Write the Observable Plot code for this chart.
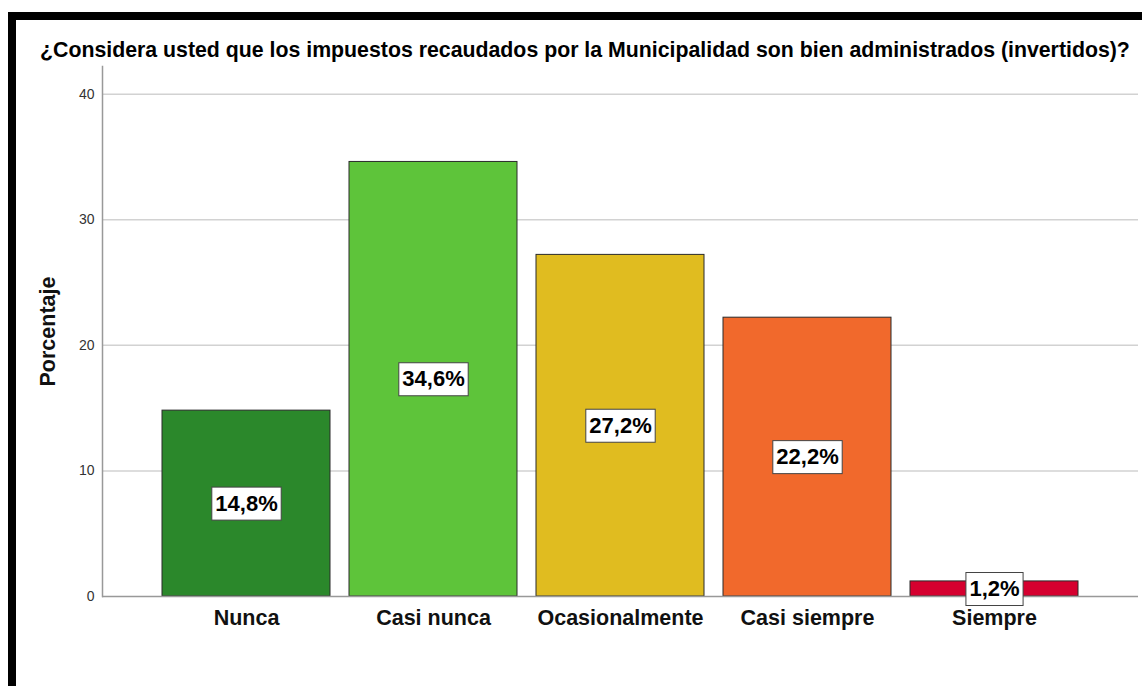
<!DOCTYPE html>
<html><head><meta charset="utf-8">
<script src="https://cdn.jsdelivr.net/npm/d3@7"></script>
<script src="https://cdn.jsdelivr.net/npm/@observablehq/plot@0.6"></script>
<style>
html,body{margin:0;padding:0;background:#fff;}
#wrap{position:relative;width:1142px;height:686px;overflow:hidden;font-family:"Liberation Sans",Arial,sans-serif;}
#bt{position:absolute;left:8px;top:12px;width:1134px;height:8px;background:#000;}
#bl{position:absolute;left:8px;top:12px;width:8px;height:674px;background:#000;}
#title{position:absolute;left:40px;top:38px;font-weight:bold;font-size:21.3px;line-height:24px;white-space:nowrap;color:#000;}
#chart{position:absolute;left:0;top:0;}
</style></head><body>
<div id="wrap"><div id="chart"></div><div id="bt"></div><div id="bl"></div><div id="title">¿Considera usted que los impuestos recaudados por la Municipalidad son bien administrados (invertidos)?</div></div>
<script>
const categories = ["Nunca", "Casi nunca", "Ocasionalmente", "Casi siempre", "Siempre"];
const percentages = [14.8, 34.6, 27.2, 22.2, 1.2];
const barColors = ["#2b882b", "#5ec43a", "#e0bc20", "#f1692c", "#d5002f"];
const yTicks = [0, 10, 20, 30, 40];
const yLabel = "Porcentaje";

const data = categories.map((c, i) => ({
  category: c,
  value: percentages[i],
  label: percentages[i].toFixed(1).replace(".", ",") + "%"
}));

const plot = Plot.plot({
  width: 1142, height: 686,
  marginTop: 66, marginBottom: 90, marginLeft: 102, marginRight: 4,
  style: {fontFamily: "'Liberation Sans', Arial, sans-serif", background: "transparent", overflow: "visible"},
  x: {domain: categories, paddingInner: 0.1, paddingOuter: 0.32, label: null},
  y: {domain: [0, 42.2], label: null},
  color: {domain: categories, range: barColors},
  marks: [
    Plot.ruleY(yTicks.slice(1), {stroke: "#d2d2d2", strokeWidth: 1.5}),
    Plot.barY(data, {x: "category", y: "value", fill: "category", stroke: "#2a2a2a", strokeWidth: 1}),
    Plot.ruleY([0], {stroke: "#999", strokeWidth: 1.5}),
    Plot.frame({anchor: "left", stroke: "#999", strokeWidth: 1.5}),
    Plot.axisY({ticks: yTicks, tickSize: 0, tickPadding: 8, fontSize: 14, fill: "#333", label: null}),
    Plot.axisX({tickSize: 0, tickPadding: 13, fontSize: 21.5, fontWeight: "bold", fill: "#111", label: null}),
    Plot.text([yLabel], {frameAnchor: "left", dx: -54, rotate: -90, textAnchor: "middle", fontSize: 21.5, fontWeight: "bold", fill: "#111"}),
    Plot.text(data, {x: "category", y: d => d.value / 2, text: "label", fontSize: 22, fontWeight: "bold", fill: "#000", className: "vlabel"})
  ]
});
document.getElementById("chart").appendChild(plot);

// white boxes behind the value labels, sized from the rendered text
plot.querySelectorAll("g.vlabel text").forEach(t => {
  const b = t.getBBox();
  const r = document.createElementNS("http://www.w3.org/2000/svg", "rect");
  r.setAttribute("x", b.x - 3.5);
  r.setAttribute("y", b.y - 3.5);
  r.setAttribute("width", b.width + 7);
  r.setAttribute("height", b.height + 8);
  r.setAttribute("fill", "#fff");
  r.setAttribute("stroke", "#444");
  r.setAttribute("stroke-width", "1");
  if (t.getAttribute("transform")) r.setAttribute("transform", t.getAttribute("transform"));
  t.parentNode.insertBefore(r, t);
});
</script>
</body></html>
